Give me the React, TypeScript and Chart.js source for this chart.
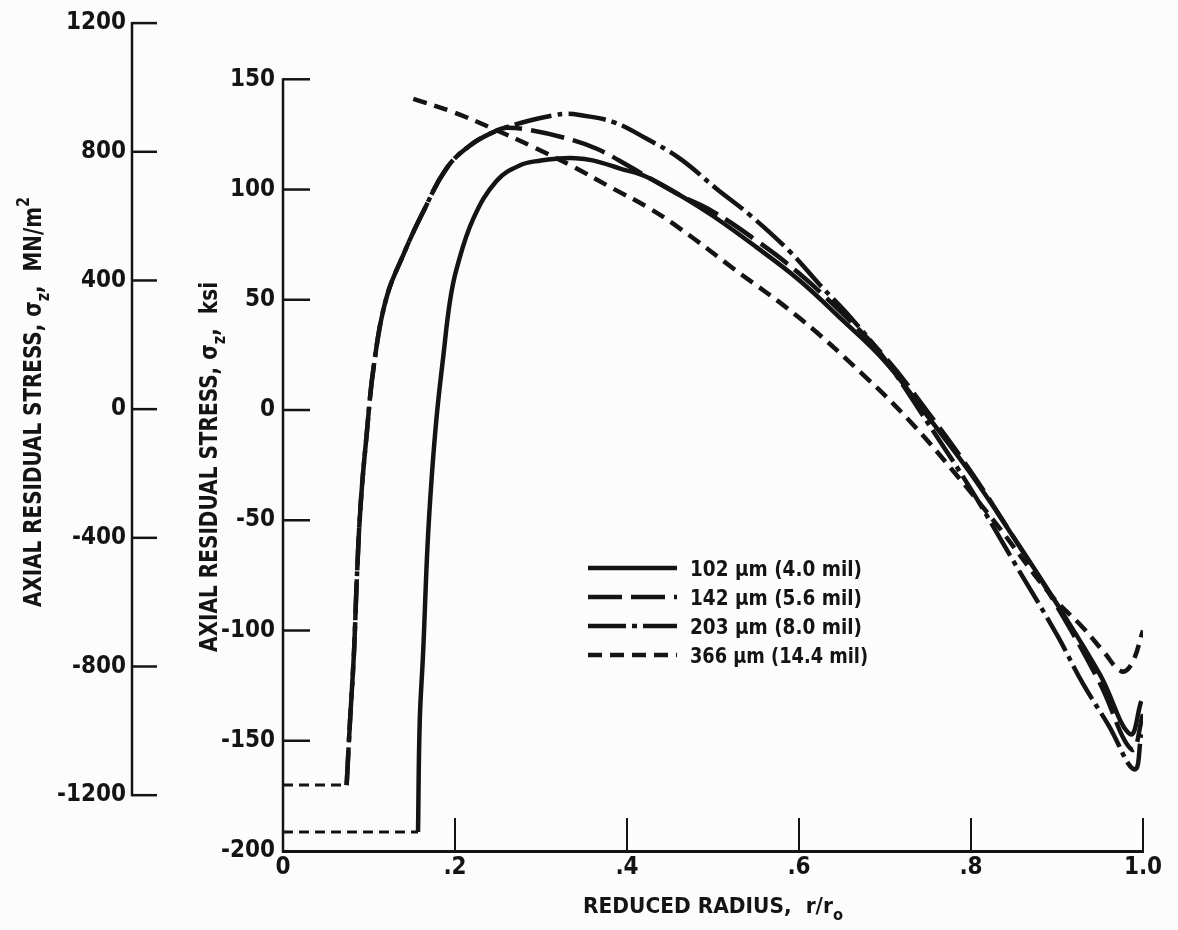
import React, { useEffect, useRef } from 'react';
import { Chart, registerables } from 'chart.js';

Chart.register(...registerables);

// ---------------- data ----------------
const xTickValues = [0, 0.2, 0.4, 0.6, 0.8, 1.0];
const xTickLabels = ['0', '.2', '.4', '.6', '.8', '1.0'];
const ksiTickValues = [150, 100, 50, 0, -50, -100, -150, -200];
const mpaTickValues = [1200, 800, 400, 0, -400, -800, -1200];

const seriesNames = ['102 μm (4.0 mil)', '142 μm (5.6 mil)', '203 μm (8.0 mil)', '366 μm (14.4 mil)'];

const radius102 = [0.157, 0.159, 0.163, 0.168, 0.173, 0.179, 0.1864, 0.194, 0.202, 0.2213, 0.2485, 0.2756, 0.3, 0.318, 0.34, 0.36, 0.392, 0.423, 0.4616, 0.5, 0.55, 0.6, 0.65, 0.7, 0.75, 0.8, 0.85, 0.9, 0.95, 0.985, 0.998];
const stress102 = [-191.4, -141.2, -109.5, -61.9, -30.1, -1.6, 24.4, 49, 64.2, 86.8, 104, 111, 113.2, 114, 114.2, 113.2, 109.5, 105.7, 97.4, 88, 74, 59, 41, 22, -3, -29, -58, -88, -120, -147, -132];

const radius142 = [0.074, 0.0779, 0.0826, 0.0857, 0.0903, 0.0973, 0.1058, 0.12, 0.14, 0.163, 0.19, 0.2174, 0.2485, 0.26, 0.287, 0.326, 0.3648, 0.4035, 0.4306, 0.4616, 0.5, 0.55, 0.6, 0.65, 0.7, 0.75, 0.8, 0.85, 0.9, 0.95, 0.987, 1.0];
const stress142 = [-170.1, -141.2, -109.5, -77.8, -42.8, -11, 20.7, 50.5, 70.5, 89.9, 109.5, 120, 126.8, 128, 127, 123.6, 118.5, 110.3, 104.2, 97.4, 90, 77, 62, 44, 24, -1, -28, -58, -89, -124, -154, -138];

const radius203 = [0.074, 0.0779, 0.0826, 0.0857, 0.0903, 0.0973, 0.1058, 0.12, 0.14, 0.163, 0.19, 0.2174, 0.2485, 0.26, 0.287, 0.314, 0.33, 0.345, 0.384, 0.423, 0.4616, 0.504, 0.543, 0.5895, 0.6244, 0.66, 0.7, 0.75, 0.8, 0.85, 0.9, 0.93, 0.96, 0.99, 0.998];
const stress203 = [-170.1, -141.2, -109.5, -77.8, -42.8, -11, 20.7, 50.5, 70.5, 89.9, 109.5, 120, 126.8, 128.3, 131.3, 133.6, 134.4, 133.8, 130.6, 123, 114, 100.4, 88.4, 71.8, 56.7, 42, 23, -6, -36, -69, -102, -124, -143, -163, -147];

const radius366 = [0.1515, 0.198, 0.2446, 0.291, 0.3376, 0.384, 0.423, 0.4616, 0.5236, 0.601, 0.6787, 0.729, 0.78, 0.83, 0.892, 0.93, 0.955, 0.975, 0.987, 1.0];
const stress366 = [141.1, 135.1, 127.5, 119.3, 110.3, 100.4, 92.2, 82.3, 64.2, 41.6, 14.5, -5.1, -28, -52, -83.5, -98.6, -110, -118.5, -115, -100];

// dashed extensions into the core (r/r0 below the first measured point)
const coreRadius102 = [0, 0.157];
const coreStress102 = [-191.4, -191.4];
const coreRadius203 = [0, 0.074];
const coreStress203 = [-170.1, -170.1];

// ---------------- styling ----------------
const INK = '#141414';
const FONT = "'Liberation Sans Narrow', 'DejaVu Sans Condensed', 'Roboto Condensed', Roboto, 'Liberation Sans', sans-serif";
const KSI_MIN = -200;
const KSI_MAX = 175.8;
const MPA_MIN = -1373.5;
const MPA_MAX = 1202.2;

type Part = { t: string; kind?: 'sub' | 'sup' };

function drawRich(
  ctx: CanvasRenderingContext2D,
  parts: Part[],
  x: number,
  y: number,
  size: number,
  targetLen: number,
  rotate: boolean,
  align: 'left' | 'center'
) {
  ctx.save();
  const base = `bold ${size}px ${FONT}`;
  const small = `bold ${Math.round(size * 0.72)}px ${FONT}`;
  let total = 0;
  const widths = parts.map((p) => {
    ctx.font = p.kind ? small : base;
    const w = ctx.measureText(p.t).width;
    total += w;
    return w;
  });
  const s = targetLen / total;
  ctx.translate(x, y);
  if (rotate) ctx.rotate(-Math.PI / 2);
  ctx.scale(s, 1);
  ctx.textBaseline = 'alphabetic';
  ctx.textAlign = 'left';
  ctx.fillStyle = INK;
  let cx = align === 'center' ? -total / 2 : 0;
  const capHalf = size * 0.36;
  parts.forEach((p, i) => {
    ctx.font = p.kind ? small : base;
    const dy = p.kind === 'sub' ? size * 0.3 : p.kind === 'sup' ? -size * 0.5 : 0;
    ctx.fillText(p.t, cx, capHalf + dy);
    cx += widths[i];
  });
  ctx.restore();
}

function seg(ctx: CanvasRenderingContext2D, x1: number, y1: number, x2: number, y2: number) {
  ctx.beginPath();
  ctx.moveTo(x1, y1);
  ctx.lineTo(x2, y2);
  ctx.stroke();
}

const decorPlugin = {
  id: 'decor',
  beforeDraw(chart: any) {
    const { ctx, width, height } = chart;
    ctx.save();
    ctx.fillStyle = '#fcfcfc';
    ctx.fillRect(0, 0, width, height);
    ctx.restore();
  },
  afterDraw(chart: any) {
    const { ctx, chartArea } = chart;
    const xs = chart.scales.x;
    const yk = chart.scales.yKsi;
    const ym = chart.scales.yMpa;
    ctx.save();
    ctx.strokeStyle = INK;
    ctx.lineCap = 'butt';
    ctx.setLineDash([]);

    // inner (ksi) axis line and inward ticks
    ctx.lineWidth = 2.5;
    const ix = yk.right;
    seg(ctx, ix, yk.getPixelForValue(ksiTickValues[0]) - 1, ix, chartArea.bottom + 1.5);
    ksiTickValues.forEach((v) => {
      if (v === KSI_MIN) return;
      const py = yk.getPixelForValue(v);
      seg(ctx, ix, py, ix + 27, py);
    });

    // outer (MN/m^2) axis line and ticks
    const ox = ym.right;
    seg(ctx, ox, ym.getPixelForValue(mpaTickValues[0]) - 1, ox, ym.getPixelForValue(mpaTickValues[mpaTickValues.length - 1]) + 1);
    mpaTickValues.forEach((v) => {
      const py = ym.getPixelForValue(v);
      seg(ctx, ox, py, ox + 25, py);
    });

    // x ticks pointing up into the plot
    ctx.lineWidth = 2;
    xTickValues.forEach((v) => {
      if (v === 0) return;
      const px = xs.getPixelForValue(v);
      seg(ctx, px, chartArea.bottom, px, chartArea.bottom - 33);
    });

    // axis titles
    drawRich(
      ctx,
      [{ t: 'AXIAL RESIDUAL STRESS, σ' }, { t: 'z', kind: 'sub' }, { t: ',  MN/m' }, { t: '2', kind: 'sup' }],
      32, 402, 25, 410, true, 'center'
    );
    drawRich(
      ctx,
      [{ t: 'AXIAL RESIDUAL STRESS, σ' }, { t: 'z', kind: 'sub' }, { t: ',  ksi' }],
      208, 467, 25, 370, true, 'center'
    );
    drawRich(
      ctx,
      [{ t: 'REDUCED RADIUS,  r/r' }, { t: 'o', kind: 'sub' }],
      713, 905, 22, 260, false, 'center'
    );

    // legend
    const rowY = [568, 597, 626, 655];
    const textW = [172, 172, 172, 178];
    chart.data.datasets.forEach((ds: any, i: number) => {
      if (ds.isCore) return;
      const y = rowY[i];
      ctx.lineWidth = 4.5;
      ctx.setLineDash(ds.borderDash || []);
      seg(ctx, 588, y, 677, y);
      ctx.setLineDash([]);
      drawRich(ctx, [{ t: ds.label }], 690, y, 21, textW[i], false, 'left');
    });
    ctx.restore();
  },
};

const pts = (xs: number[], ys: number[]) => xs.map((x, i) => ({ x, y: ys[i] }));

function makeDataset(label: string, data: { x: number; y: number }[], dash: number[]) {
  return {
    label,
    data,
    borderColor: INK,
    borderWidth: 4.5,
    borderDash: dash,
    pointRadius: 0,
    fill: false,
    tension: 0.4,
    xAxisID: 'x',
    yAxisID: 'yKsi',
  };
}

function makeCore(label: string, data: { x: number; y: number }[]) {
  return {
    label,
    data,
    isCore: true,
    borderColor: INK,
    borderWidth: 3,
    borderDash: [10, 6],
    pointRadius: 0,
    fill: false,
    tension: 0,
    xAxisID: 'x',
    yAxisID: 'yKsi',
  };
}

export default function App() {
  const ref = useRef<HTMLCanvasElement>(null);
  useEffect(() => {
    document.body.style.margin = '0';
    document.body.style.overflow = 'hidden';
    const canvas = ref.current;
    if (!canvas) return;
    const tickFont = { family: FONT, size: 24, weight: 'bold' as const };
    const chart = new Chart(canvas, {
      type: 'line',
      data: {
        datasets: [
          makeDataset(seriesNames[0], pts(radius102, stress102), []),
          makeDataset(seriesNames[1], pts(radius142, stress142), [34, 9]),
          makeDataset(seriesNames[2], pts(radius203, stress203), [38, 6, 5, 6]),
          makeDataset(seriesNames[3], pts(radius366, stress366), [14, 8]),
          makeCore(seriesNames[0] + ' core', pts(coreRadius102, coreStress102)),
          makeCore(seriesNames[2] + ' core', pts(coreRadius203, coreStress203)),
        ],
      },
      options: {
        responsive: false,
        animation: false,
        events: [],
        layout: { padding: { top: 20, right: 35, bottom: 0, left: 0 } },
        plugins: { legend: { display: false }, tooltip: { enabled: false }, title: { display: false } },
        scales: {
          x: {
            type: 'linear',
            min: 0,
            max: 1,
            afterBuildTicks: (s: any) => {
              s.ticks = xTickValues.map((v) => ({ value: v }));
            },
            afterFit: (s: any) => {
              s.height = 79;
            },
            grid: { display: false, drawTicks: false },
            border: { display: true, color: INK, width: 3 },
            ticks: {
              autoSkip: false,
              maxRotation: 0,
              padding: 2,
              color: INK,
              font: tickFont,
              callback: (_v: any, i: number) => xTickLabels[i],
            },
          },
          yKsi: {
            type: 'linear',
            position: 'left',
            weight: 0,
            min: KSI_MIN,
            max: KSI_MAX,
            afterBuildTicks: (s: any) => {
              s.ticks = ksiTickValues.map((v) => ({ value: v }));
            },
            afterFit: (s: any) => {
              s.width = 151;
            },
            grid: { display: false, drawTicks: false },
            border: { display: false },
            ticks: {
              autoSkip: false,
              padding: 8,
              color: INK,
              font: tickFont,
              callback: (v: any) => String(v),
            },
          },
          yMpa: {
            type: 'linear',
            position: 'left',
            weight: 1,
            min: MPA_MIN,
            max: MPA_MAX,
            afterBuildTicks: (s: any) => {
              s.ticks = mpaTickValues.map((v) => ({ value: v }));
            },
            afterFit: (s: any) => {
              s.width = 132;
            },
            grid: { display: false, drawTicks: false },
            border: { display: false },
            ticks: {
              autoSkip: false,
              padding: 6,
              color: INK,
              font: tickFont,
              callback: (v: any) => String(v),
            },
          },
        },
      },
      plugins: [decorPlugin],
    } as any);
    return () => chart.destroy();
  }, []);
  return (
    <div style={{ width: 1178, height: 930 }}>
      <canvas ref={ref} width={1178} height={930} style={{ display: 'block' }} />
    </div>
  );
}
